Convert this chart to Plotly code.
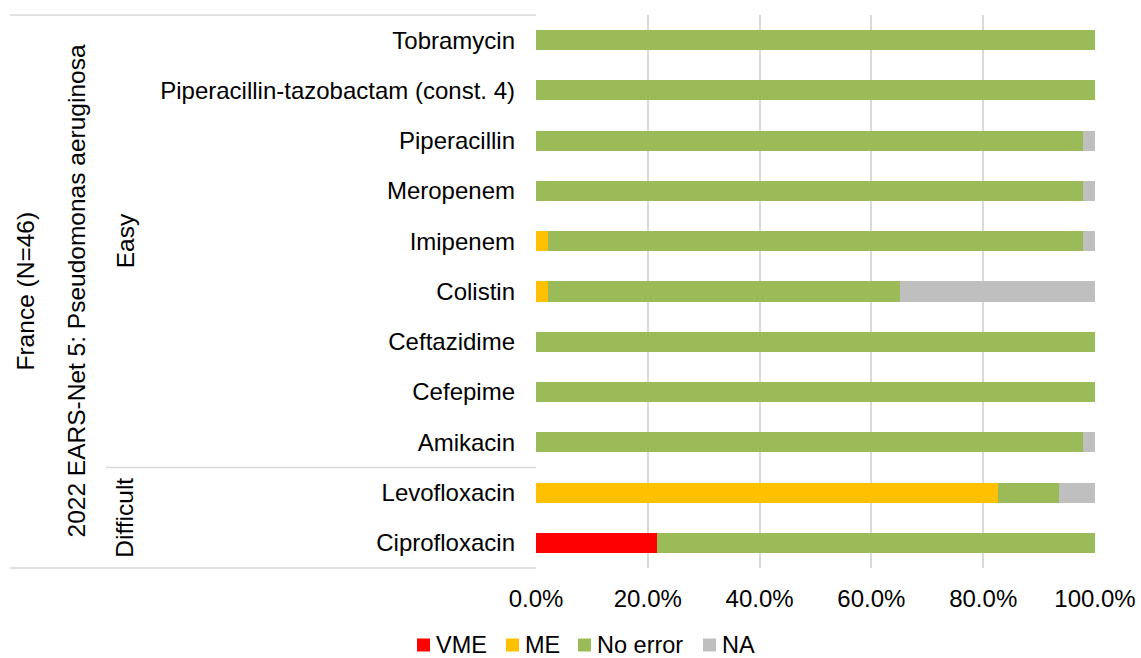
import plotly.graph_objects as go

# Data (percent of N=46 isolates), categories listed top to bottom
drugs = ["Tobramycin", "Piperacillin-tazobactam (const. 4)", "Piperacillin", "Meropenem",
         "Imipenem", "Colistin", "Ceftazidime", "Cefepime", "Amikacin",
         "Levofloxacin", "Ciprofloxacin"]
vme =      [0, 0, 0, 0, 0, 0, 0, 0, 0, 0, 21.7]
me =       [0, 0, 0, 0, 2.2, 2.2, 0, 0, 0, 82.6, 0]
no_error = [100, 100, 97.8, 97.8, 95.7, 63.0, 100, 100, 97.8, 10.9, 78.3]
na =       [0, 0, 2.2, 2.2, 2.2, 34.8, 0, 0, 2.2, 6.5, 0]

series_names = ["VME", "ME", "No error", "NA"]
series_colors = ["#FF0000", "#FFC000", "#9BBB59", "#BFBFBF"]
tick_vals = [0, 0.2, 0.4, 0.6, 0.8, 1.0]

FONT = "Liberation Sans, Arial, sans-serif"
W, H = 1141, 658
ML, MR, MT, MB = 536, 46, 15, 90
PW, PH = W - ML - MR, H - MT - MB

def px_x(px):   # pixel x -> paper x
    return (px - ML) / PW

def px_y(py):   # pixel y -> paper y
    return (H - MB - py) / PH

fig = go.Figure()
for name, vals, col in zip(series_names, [vme, me, no_error, na], series_colors):
    fig.add_trace(go.Bar(
        y=drugs, x=[v / 100 for v in vals], name=name, orientation="h",
        marker=dict(color=col, line=dict(width=0)), showlegend=False,
    ))

fig.update_layout(
    barmode="stack", bargap=0.6,
    width=W, height=H,
    margin=dict(l=ML, r=MR, t=MT, b=MB, autoexpand=False),
    paper_bgcolor="white", plot_bgcolor="white",
    font=dict(family=FONT, size=24, color="#000000"),
    showlegend=False,
)
fig.update_xaxes(range=[0, 1], tickvals=tick_vals, tickformat=".1%",
                 showgrid=True, gridcolor="#D9D9D9", gridwidth=1.5,
                 zeroline=False, showline=False, ticks="", automargin=False,
                 ticklabelstandoff=14, tickfont=dict(size=24))
fig.update_yaxes(categoryorder="array", categoryarray=drugs, autorange="reversed",
                 showgrid=False, zeroline=False, showline=False, ticks="", automargin=False,
                 ticklabelstandoff=20, tickfont=dict(size=24))

line_style = dict(color="#D9D9D9", width=1.5)
# outer group borders
fig.add_shape(type="line", xref="paper", yref="paper", x0=px_x(10), x1=0, y0=1, y1=1, line=line_style)
fig.add_shape(type="line", xref="paper", yref="paper", x0=px_x(10), x1=0, y0=0, y1=0, line=line_style)
# divider between Easy and Difficult
fig.add_shape(type="line", xref="paper", yref="y", x0=px_x(106), x1=0, y0=8.5, y1=8.5, line=line_style)

def vlabel(text, x, y, yref="paper"):
    fig.add_annotation(text=text, xref="paper", yref=yref, x=x, y=y, textangle=-90,
                       showarrow=False, xanchor="center", yanchor="middle",
                       font=dict(size=24.5, family=FONT, color="#000000"))

vlabel("France (N=46)", px_x(25), 0.5)
vlabel("2022 EARS-Net 5: Pseudomonas aeruginosa", px_x(76), 0.5)
vlabel("Easy", px_x(125), 4.0, yref="y")
vlabel("Difficult", px_x(125), 9.5, yref="y")

# legend (drawn as swatches + text to match spacing of the reference)
legend_swatch_px = [417, 506, 578, 703]
sw = 13
ly = 645
for name, col, sx in zip(series_names, series_colors, legend_swatch_px):
    fig.add_shape(type="rect", xref="paper", yref="paper",
                  x0=px_x(sx), x1=px_x(sx + sw), y0=px_y(ly + sw / 2), y1=px_y(ly - sw / 2),
                  fillcolor=col, line=dict(width=0))
    fig.add_annotation(text=name, xref="paper", yref="paper", x=px_x(sx + sw + 4), y=px_y(ly),
                       xanchor="left", yanchor="middle", showarrow=False,
                       font=dict(size=23.5, family=FONT, color="#000000"))

fig.write_html("out.html", config={"displayModeBar": False},
               post_script="document.body.style.margin='0px';")
